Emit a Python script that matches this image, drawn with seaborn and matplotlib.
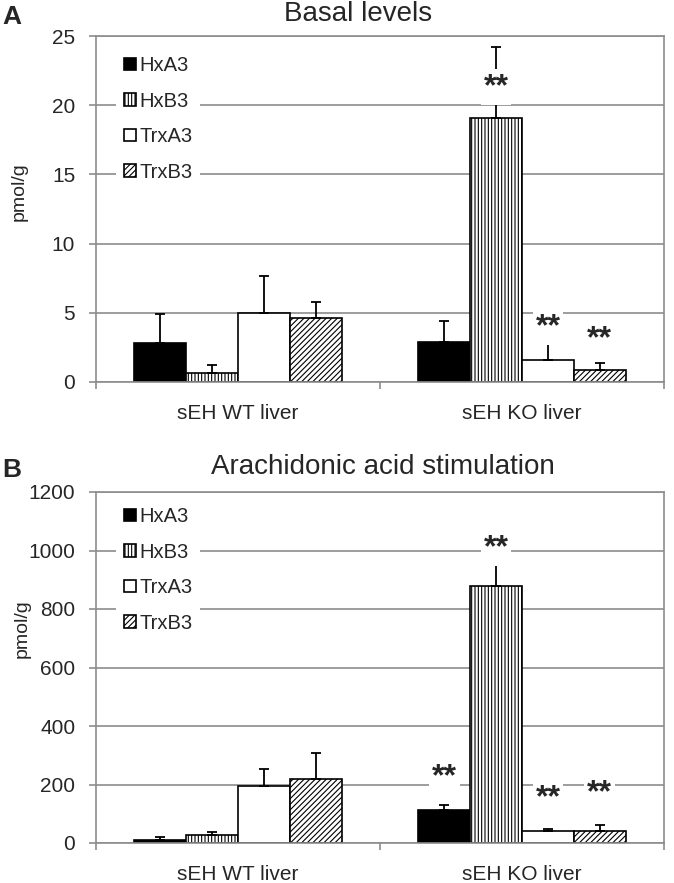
import numpy as np
import pandas as pd
import matplotlib
matplotlib.use("Agg")
import matplotlib.pyplot as plt
import seaborn as sns
from matplotlib.ticker import FixedLocator, NullFormatter


groups = ["sEH WT liver", "sEH KO liver"]
compounds = ["HxA3", "HxB3", "TrxA3", "TrxB3"]

# panel A, basal levels (pmol/g), mean and upper error
basal_wt = [2.84, 0.63, 4.96, 4.60]
basal_ko = [2.89, 19.07, 1.61, 0.87]
basal_wt_err = [2.07, 0.60, 2.70, 1.20]
basal_ko_err = [1.54, 5.13, 1.18, 0.48]
# height of the "**" marks over the KO bars (None = no mark)
basal_ko_sig = [None, 21.7, 4.36, 3.52]

# panel B, arachidonic acid stimulation (pmol/g)
aa_wt = [11, 28, 194, 220]
aa_ko = [114, 880, 42, 42]
aa_wt_err = [8, 8, 60, 88]
aa_ko_err = [17, 98, 7, 20]
aa_ko_sig = [245, 1028, 173, 188]

hatches = ["", "|||||", "", "//////"]
fills = ["black", "white", "white", "white"]

sns.set_style("white")
plt.rcParams["font.family"] = ["Liberation Sans", "DejaVu Sans"]
plt.rcParams["hatch.linewidth"] = 0.8

GRID = "#8c8c8c"


def make_frame(wt, ko, wt_err, ko_err):
    rows = []
    for i, c in enumerate(compounds):
        rows.append({"group": groups[0], "compound": c, "value": wt[i], "err": wt_err[i]})
        rows.append({"group": groups[1], "compound": c, "value": ko[i], "err": ko_err[i]})
    return pd.DataFrame(rows)


def draw_panel(ax, df, sig, ymax, ystep, legend_top):
    sns.barplot(
        data=df, x="group", y="value", hue="compound",
        order=groups, hue_order=compounds,
        palette=dict(zip(compounds, fills)),
        edgecolor="black", linewidth=1.2, width=0.73,
        errorbar=None, legend=False, ax=ax, zorder=2,
    )
    bars = list(ax.containers)
    for i, cont in enumerate(bars):
        sub = df[df["compound"] == compounds[i]].set_index("group").loc[groups]
        for j, patch in enumerate(cont.patches):
            patch.set_hatch(hatches[i])
            cx = patch.get_x() + patch.get_width() / 2
            top = patch.get_height()
            ax.errorbar(cx, top, yerr=[[0], [sub["err"].iloc[j]]], fmt="none",
                        ecolor="black", elinewidth=1.3, capsize=3.6,
                        capthick=1.3, zorder=3)
        if sig[i] is not None:
            patch = cont.patches[1]
            cx = patch.get_x() + patch.get_width() / 2
            ax.annotate("**", xy=(cx, sig[i]), xytext=(0, -4),
                        textcoords="offset points", ha="center", va="center",
                        fontsize=23, fontweight="bold", zorder=5,
                        bbox=dict(facecolor="white", edgecolor="none", pad=2))

    ax.set_xlim(-0.5, 1.5)
    ax.set_ylim(0, ymax)
    ax.set_yticks(np.arange(0, ymax + 1, ystep))
    ax.set_axisbelow(True)
    ax.yaxis.grid(True, color=GRID, linewidth=1.2)
    for s in ax.spines.values():
        s.set_color(GRID)
        s.set_linewidth(1.2)
    ax.tick_params(axis="y", which="major", length=5, width=1.2, color=GRID,
                   labelsize=15, pad=10, left=True)
    ax.tick_params(axis="x", which="major", length=0, labelsize=15, pad=16)
    ax.xaxis.set_minor_locator(FixedLocator([-0.5, 0.5, 1.5]))
    ax.xaxis.set_minor_formatter(NullFormatter())
    ax.tick_params(axis="x", which="minor", length=5, width=1.2, color=GRID,
                   bottom=True)
    ax.set_xlabel("")
    ax.set_ylabel("pmol/g", fontsize=14)

    handles = [c.patches[0] for c in bars]
    leg = ax.legend(handles, compounds, loc="upper left",
                    bbox_to_anchor=(0.035, legend_top), frameon=True,
                    fontsize=14.5, handlelength=0.6, handleheight=0.6,
                    handletextpad=0.15, labelspacing=0.82, borderpad=0.4,
                    borderaxespad=0)
    leg.get_frame().set_facecolor("white")
    leg.get_frame().set_edgecolor("none")
    leg.get_frame().set_alpha(1)
    leg.set_zorder(4)


fig = plt.figure(figsize=(6.74, 8.83), dpi=100)
ax_a = fig.add_axes([96 / 674, 1 - 382 / 883, 568 / 674, 346 / 883])
ax_b = fig.add_axes([96 / 674, 1 - 843 / 883, 568 / 674, 351 / 883])

draw_panel(ax_a, make_frame(basal_wt, basal_ko, basal_wt_err, basal_ko_err),
           basal_ko_sig, 25, 5, 0.965)
draw_panel(ax_b, make_frame(aa_wt, aa_ko, aa_wt_err, aa_ko_err),
           aa_ko_sig, 1200, 200, 0.98)

ax_a.yaxis.set_label_coords(-0.12, 0.55)
ax_b.yaxis.set_label_coords(-0.115, 0.61)

fig.text(358 / 674, 1 - 14 / 883, "Basal levels", ha="center", va="center", fontsize=20)
fig.text(383 / 674, 1 - 467 / 883, "Arachidonic acid stimulation", ha="center",
         va="center", fontsize=20)
fig.text(2 / 674, 1 - 17 / 883, "A", ha="left", va="center", fontsize=19, fontweight="bold")
fig.text(2 / 674, 1 - 470 / 883, "B", ha="left", va="center", fontsize=19, fontweight="bold")

fig.savefig("out.png", dpi=100)
